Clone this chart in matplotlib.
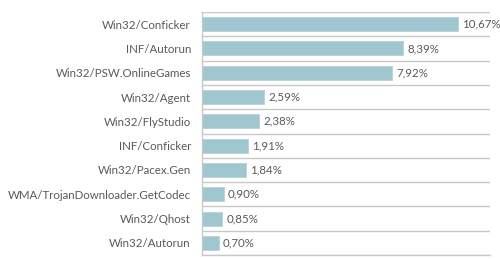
import matplotlib
matplotlib.use("Agg")
import matplotlib.pyplot as plt
import numpy as np

categories = ["Win32/Conficker", "INF/Autorun", "Win32/PSW.OnlineGames", "Win32/Agent",
              "Win32/FlyStudio", "INF/Conficker", "Win32/Pacex.Gen",
              "WMA/TrojanDownloader.GetCodec", "Win32/Qhost", "Win32/Autorun"]
values = [10.67, 8.39, 7.92, 2.59, 2.38, 1.91, 1.84, 0.90, 0.85, 0.70]
value_labels = ["10,67%", "8,39%", "7,92%", "2,59%", "2,38%", "1,91%", "1,84%", "0,90%", "0,85%", "0,70%"]

plt.rcParams['font.family'] = ['Lato', 'DejaVu Sans']
txt = '#595959'
grid = '#c8c8c8'

fig = plt.figure(figsize=(5, 2.59), dpi=100)
ax = fig.add_axes([0.404, 0.0154, 0.576, 0.9383])
y = np.arange(len(categories))
ax.barh(y, values, height=0.58, color='#a0c7cf', edgecolor='#b3d3da', linewidth=0.6)
ax.set_ylim(len(categories) - 0.5, -0.5)
ax.set_xlim(0, 12)
ax.set_yticks(y)
ax.set_yticklabels(categories, fontsize=8.3, color=txt)
ax.tick_params(axis='y', length=0, pad=8)
ax.set_xticks([])
ax.set_yticks(np.arange(-0.5, len(categories), 1), minor=True)
ax.tick_params(axis='y', which='minor', length=0)
ax.grid(True, axis='y', which='minor', color=grid, linewidth=1)
ax.set_axisbelow(True)
for s in ['top', 'right']:
    ax.spines[s].set_visible(False)
for s in ['left', 'bottom']:
    ax.spines[s].set_color(grid)
    ax.spines[s].set_linewidth(1)
for yi, v, lab in zip(y, values, value_labels):
    ax.annotate(lab, (v, yi), xytext=(3, 0), textcoords='offset points',
                va='center', ha='left', fontsize=8.3, color=txt)
fig.savefig("out.png", dpi=100, facecolor='white')
